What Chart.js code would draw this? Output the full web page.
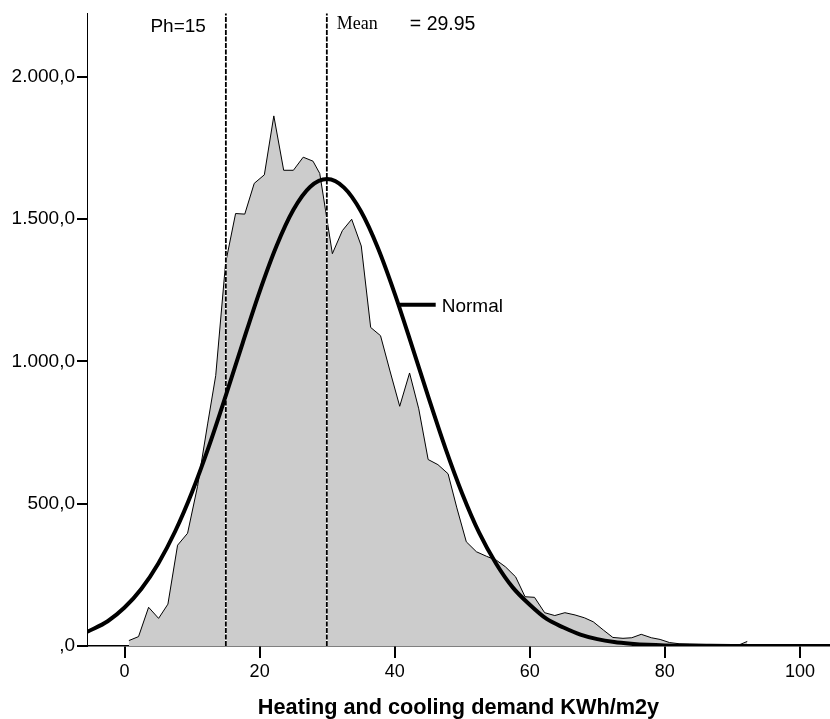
<!DOCTYPE html>
<html>
<head>
<meta charset="utf-8">
<script src="https://cdn.jsdelivr.net/npm/chart.js@4.4.1/dist/chart.umd.min.js"></script>
<style>
  html, body { margin: 0; padding: 0; background: #fff; }
  #wrap { width: 830px; height: 719px; position: relative; }
</style>
</head>
<body>
<div id="wrap"><canvas id="demandChart"></canvas></div>
<script>
// frequency polygon (grey area)
const freqX = [0.64, 2.07, 3.56, 5.04, 6.42, 7.85, 9.33, 10.8, 12.3, 13.5, 14.96, 16.44, 17.8, 19.2, 20.7, 22.1,
  23.56, 25.0, 26.45, 27.9, 28.9, 30.77, 32.25, 33.63, 35.05, 36.44, 37.9, 39.3, 40.74, 42.2, 43.56, 44.95,
  46.4, 47.9, 49.2, 50.6, 52.1, 53.6, 55.07, 56.4, 57.9, 59.3, 60.7, 62.2, 63.7, 65.2, 66.7, 68.1, 69.4,
  70.9, 72.3, 73.8, 75.1, 76.5, 78.0, 79.3, 80.7, 82.1, 83.6, 85.0, 86.5, 88.0, 89.4, 90.9, 92.2];
const freqY = [19, 33, 136, 97, 147, 354, 396, 560, 780, 950, 1345, 1519, 1517, 1625, 1655, 1862,
  1671, 1671, 1717, 1703, 1660, 1378, 1459, 1499, 1405, 1119, 1090, 966, 842, 959, 833, 655,
  637, 605, 485, 366, 331, 315, 301, 278, 243, 173, 171, 117, 107, 117, 109, 99, 85,
  56, 30, 27, 29, 41, 29, 23, 12, 8, 7, 6, 5, 4, 3, 3, 16];

// fitted normal curve
const normX = [-5.5, -2.5, 0, 2.5, 5, 7.5, 10, 12.5, 15, 17.5, 20, 22.5, 25, 27.5, 30, 32.5, 35, 37.5, 40,
  42.5, 45, 47.5, 50, 52.5, 55, 57.5, 60, 62.5, 65, 67.5, 70, 72.5, 75, 77.5, 80, 85, 90, 95, 100, 104.5];
const normY = [50, 87, 135, 201, 290, 403, 541, 702, 880, 1065, 1245, 1405, 1532, 1613, 1640, 1610, 1527, 1399, 1238,
  1058, 873, 695, 535, 398, 290, 205, 145, 95, 65, 40, 24, 14, 8, 4, 2, 1, 0, 0, 0, 0];

const phValue = 15;
const meanValue = 29.95;

const xTicks = [0, 20, 40, 60, 80, 100];
const yTicks = [0, 500, 1000, 1500, 2000];
const yTickLabels = [',0', '500,0', '1.000,0', '1.500,0', '2.000,0'];

const xMin = -5.56, xMax = 104.45, yMax = 2222;

const SANS = 'Arial, "Liberation Sans", sans-serif';
const SERIF = '"Times New Roman", "Liberation Serif", serif';

const toPoints = (xs, ys) => xs.map((x, i) => ({ x, y: ys[i] }));
const vLine = v => [{ x: v, y: 0 }, { x: v, y: yMax + 10 }];

// "Normal" key sits on the curve, at the level it reads in the picture
const normalKeyY = 1199;
const normalKey = [{ x: 40.74, y: normalKeyY }, { x: 46.07, y: normalKeyY }];

const annotationText = {
  id: 'annotationText',
  afterDatasetsDraw(chart) {
    const { ctx, scales: { x, y } } = chart;
    ctx.save();
    ctx.fillStyle = '#000';
    ctx.textBaseline = 'middle';

    ctx.font = '19px ' + SANS;
    ctx.textAlign = 'right';
    ctx.fillText('Ph=' + phValue, x.getPixelForValue(phValue) - 20, 27);

    ctx.textAlign = 'left';
    ctx.font = '18px ' + SERIF;
    ctx.fillText('Mean', x.getPixelForValue(meanValue) + 10, 24);
    ctx.font = '19.5px ' + SANS;
    ctx.fillText('= ' + meanValue.toFixed(2), x.getPixelForValue(meanValue) + 83, 25);

    ctx.font = '19px ' + SANS;
    ctx.fillText('Normal', x.getPixelForValue(normalKey[1].x) + 6, y.getPixelForValue(normalKeyY) + 2);
    ctx.restore();
  }
};

new Chart(document.getElementById('demandChart'), {
  type: 'line',
  data: {
    datasets: [
      { data: toPoints(normX, normY), borderColor: '#000', borderWidth: 4, cubicInterpolationMode: 'monotone', fill: false },
      { data: normalKey, borderColor: '#000', borderWidth: 4, fill: false },
      { data: vLine(phValue), borderColor: '#000', borderWidth: 1.8, borderDash: [5, 1.5], fill: false },
      { data: vLine(meanValue), borderColor: '#000', borderWidth: 1.8, borderDash: [5, 1.5], fill: false },
      { data: vLine(phValue), borderColor: '#fff', borderWidth: 1.8, fill: false },
      { data: vLine(meanValue), borderColor: '#fff', borderWidth: 1.8, fill: false },
      { data: toPoints(freqX, freqY), borderColor: '#000', borderWidth: 1, backgroundColor: '#cccccc', fill: 'origin', tension: 0 }
    ]
  },
  options: {
    responsive: true,
    maintainAspectRatio: false,
    animation: false,
    layout: { padding: { top: 12, right: 0, bottom: 0, left: 0 } },
    elements: { point: { radius: 0, hoverRadius: 0 } },
    plugins: {
      legend: { display: false },
      tooltip: { enabled: false }
    },
    scales: {
      x: {
        type: 'linear',
        min: xMin,
        max: xMax,
        afterBuildTicks: s => { s.ticks = xTicks.map(v => ({ value: v })); },
        afterFit: s => { s.height = 73; },
        ticks: { color: '#000', font: { family: SANS, size: 18 }, padding: 3, maxRotation: 0, includeBounds: false },
        grid: { display: true, drawOnChartArea: false, drawTicks: true, tickLength: 12, lineWidth: 2, color: '#000' },
        border: { display: true, color: '#000', width: 1.5 },
        title: {
          display: true,
          text: 'Heating and cooling demand KWh/m2y',
          color: '#000',
          font: { family: SANS, size: 21.7, weight: 'bold', lineHeight: 1 },
          padding: { top: 0, bottom: 0 }
        }
      },
      y: {
        min: 0,
        max: yMax,
        afterBuildTicks: s => { s.ticks = yTicks.map(v => ({ value: v })); },
        afterFit: s => { s.width = 87; },
        ticks: {
          color: '#000',
          font: { family: SANS, size: 19 },
          padding: 2,
          includeBounds: false,
          callback: v => yTickLabels[yTicks.indexOf(v)]
        },
        grid: { display: true, drawOnChartArea: false, drawTicks: true, tickLength: 10, lineWidth: 2, color: '#000' },
        border: { display: true, color: '#000', width: 1 }
      }
    }
  },
  plugins: [annotationText]
});
</script>
</body>
</html>
